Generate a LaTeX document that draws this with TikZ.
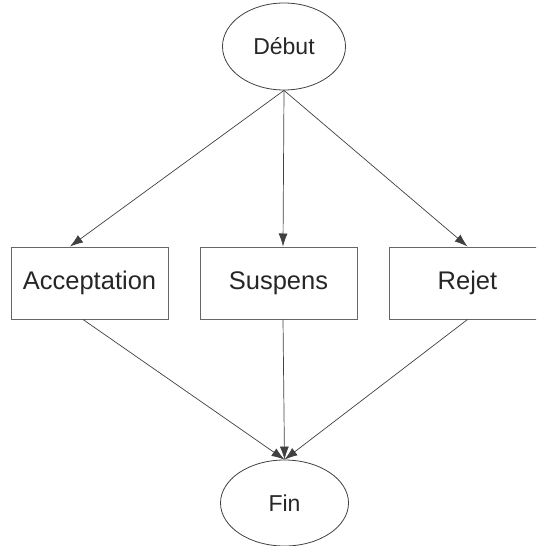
\documentclass[tikz,border=0pt]{standalone}
\usepackage{fontspec}
\setmainfont{Liberation Sans}
\usetikzlibrary{arrows.meta,shapes.geometric}
\begin{document}
\begin{tikzpicture}[x=1pt,y=-1pt,
    etat/.style={draw=black!75,line width=0.8pt,ellipse,inner sep=0pt,
      minimum width=123pt,minimum height=87pt,text=black!85,
      font=\fontsize{23}{27}\selectfont},
    choix/.style={draw=black!60,line width=1pt,rectangle,inner sep=0pt,
      minimum width=157pt,minimum height=72pt,text=black!85,
      font=\fontsize{25.5}{30}\selectfont},
    fleche/.style={draw=black!75,line width=0.7pt,-{Latex[length=13pt,width=9pt]}}]
  \useasboundingbox (0,0) rectangle (536,546);
  \clip (0,0) rectangle (536,546);

  \node[etat] (debut) at (284,46.5) {Début};
  \node[choix] (acc) at (89.5,283) {Acceptation};
  \node[choix] (sus) at (278.5,283) {Suspens};
  \node[choix] (rej) at (467.5,283) {Rejet};
  \node[etat,minimum width=128pt,minimum height=86pt] (fin) at (284.5,503) {Fin};

  % debut vers les trois issues
  \draw[fleche] (debut.south) -- ([xshift=-19.5pt]acc.north);
  \draw[fleche] (debut.south) -- ([xshift=4.5pt]sus.north);
  \draw[fleche] (debut.south) -- (rej.north);

  % issues vers fin
  \draw[fleche] ([xshift=-6.5pt]acc.south) -- (fin.north);
  \draw[fleche] ([xshift=4.5pt]sus.south) -- (fin.north);
  \draw[fleche] (rej.south) -- (fin.north);
\end{tikzpicture}
\end{document}
